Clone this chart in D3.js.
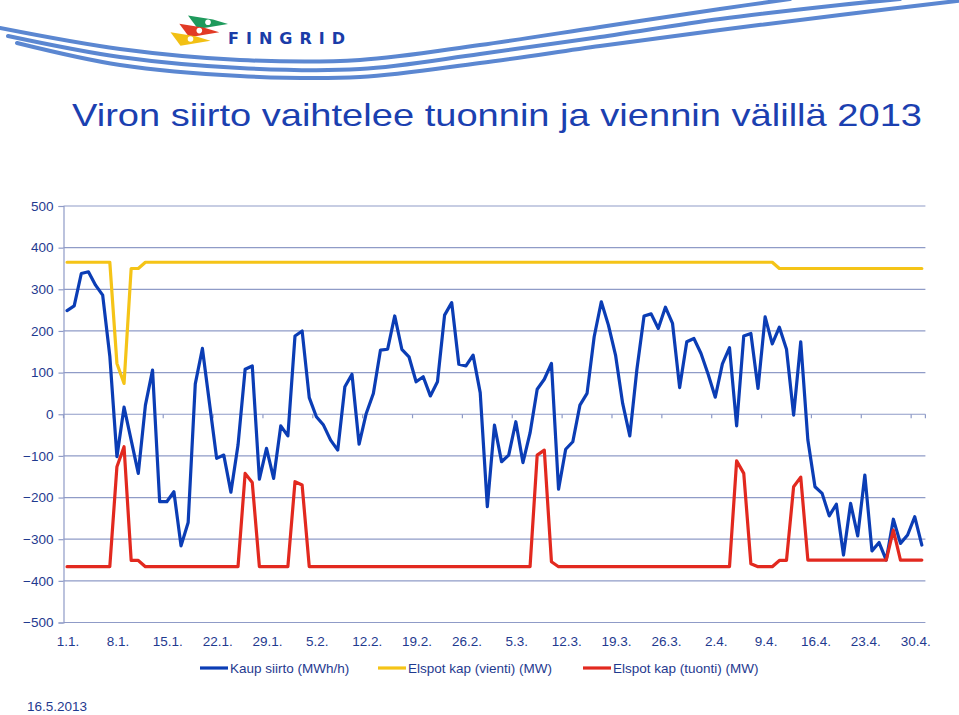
<!DOCTYPE html>
<html><head><meta charset="utf-8">
<script src="https://cdn.jsdelivr.net/npm/d3@7"></script>
<style>
body{margin:0;background:#fff}
svg{display:block}
text{font-family:"Liberation Sans",Arial,Helvetica,sans-serif}
text.logo{font-family:"DejaVu Sans","Liberation Sans",sans-serif;font-weight:bold}
</style>
</head><body>
<svg id="c" width="959" height="715"></svg>
<script>
// ---- data ----
const titleText = "Viron siirto vaihtelee tuonnin ja viennin välillä 2013";
const dateText = "16.5.2013";
const seriesNames = ["Kaup siirto (MWh/h)", "Elspot kap (vienti) (MW)", "Elspot kap (tuonti) (MW)"];
const tickLabels = ["1.1.","8.1.","15.1.","22.1.","29.1.","5.2.","12.2.","19.2.","26.2.","5.3.","12.3.","19.3.","26.3.","2.4.","9.4.","16.4.","23.4.","30.4."];
const yTicks = [500,400,300,200,100,0,-100,-200,-300,-400,-500];
const kaupSiirto = [
 249,260,338,342,310,286,140,-102,17,-62,
 -142,22,106,-210,-210,-186,-316,-260,73,158,
 26,-106,-98,-187,-74,108,116,-156,-82,-154,
 -28,-52,188,200,40,-6,-26,-62,-86,66,
 96,-72,2,50,154,156,236,156,138,78,
 90,44,78,238,268,120,116,142,52,-222,
 -26,-114,-98,-18,-116,-45,60,84,122,-180,
 -84,-66,22,50,186,270,214,142,26,-52,
 108,236,241,206,257,218,64,174,182,146,
 96,41,121,160,-28,188,194,62,234,169,
 209,156,-2,174,-62,-174,-190,-244,-216,-338,
 -214,-292,-146,-328,-308,-350,-252,-310,-290,-246,
 -314];
const elspotVienti = [
 365,365,365,365,365,365,365,122,74,350,
 350,365,365,365,365,365,365,365,365,365,
 365,365,365,365,365,365,365,365,365,365,
 365,365,365,365,365,365,365,365,365,365,
 365,365,365,365,365,365,365,365,365,365,
 365,365,365,365,365,365,365,365,365,365,
 365,365,365,365,365,365,365,365,365,365,
 365,365,365,365,365,365,365,365,365,365,
 365,365,365,365,365,365,365,365,365,365,
 365,365,365,365,365,365,365,365,365,365,
 350,350,350,350,350,350,350,350,350,350,
 350,350,350,350,350,350,350,350,350,350,
 350];
const elspotTuonti = [
 -366,-366,-366,-366,-366,-366,-366,-126,-78,-351,
 -351,-366,-366,-366,-366,-366,-366,-366,-366,-366,
 -366,-366,-366,-366,-366,-142,-164,-366,-366,-366,
 -366,-366,-162,-170,-366,-366,-366,-366,-366,-366,
 -366,-366,-366,-366,-366,-366,-366,-366,-366,-366,
 -366,-366,-366,-366,-366,-366,-366,-366,-366,-366,
 -366,-366,-366,-366,-366,-366,-98,-86,-354,-366,
 -366,-366,-366,-366,-366,-366,-366,-366,-366,-366,
 -366,-366,-366,-366,-366,-366,-366,-366,-366,-366,
 -366,-366,-366,-366,-112,-142,-359,-366,-366,-366,
 -351,-351,-174,-151,-350,-350,-350,-350,-350,-350,
 -350,-350,-350,-350,-350,-350,-278,-350,-350,-350,
 -350];
const seriesColors = ["#0b3db5", "#f5c417", "#e2291f"];

// ---- drawing ----
const svg = d3.select("#c");
svg.append("rect").attr("width",959).attr("height",715).attr("fill","#fff");

// decorative swooshes
const swooshes = [
  [[0,28],[120,49],[240,60],[360,60],[480,45],[600,27],[720,9],[790,-1]],
  [[8,36],[120,57],[240,68],[360,69],[480,54],[600,37],[720,19],[840,5],[900,-1]],
  [[17,43],[120,65],[240,76],[360,77],[480,63],[600,46],[720,30],[840,15],[965,0]]
];
const sl = d3.line().curve(d3.curveCatmullRom);
swooshes.forEach(p => svg.append("path").attr("d", sl(p)).attr("fill","none")
  .attr("stroke","#5b87d1").attr("stroke-width",4).attr("stroke-linecap","round"));

// logo flags
const flags = [
  {dx:0, dy:0, c:"#1e9a5c"},
  {dx:-8.7, dy:8.3, c:"#e23a25"},
  {dx:-17.5, dy:16.7, c:"#f2c014"}
];
flags.forEach(f => {
  const pts = [[188,15.5],[213,19.5],[228,24],[198,29]].map(p=>[p[0]+f.dx,p[1]+f.dy]);
  svg.append("polygon").attr("points", pts.map(p=>p.join(",")).join(" ")).attr("fill", f.c);
  svg.append("circle").attr("cx",208+f.dx).attr("cy",22.3+f.dy).attr("r",2.8).attr("fill","#fff");
});
svg.append("text").attr("class","logo").attr("x",228).attr("y",43.5).attr("font-size",16)
  .attr("fill","#1a3ca8").attr("textLength",117).attr("lengthAdjust","spacing").text("FINGRID");

// title
svg.append("text").attr("x",72).attr("y",126).attr("font-size",31.5).attr("fill","#1b40b0")
  .attr("textLength",850).attr("lengthAdjust","spacingAndGlyphs").text(titleText);

// scales
const n = kaupSiirto.length;
const x = d3.scaleBand().domain(d3.range(n)).range([63.5, 925.4]).paddingInner(0).paddingOuter(0);
const bw = x.bandwidth();
const cx = i => x(i) + bw/2;
const y = d3.scaleLinear().domain([-500,500]).range([622.5,206]);

const gridColor = "#8f9bc7";
const labelColor = "#1f3a8f";

// gridlines
svg.append("g").selectAll("line").data(yTicks).join("line")
  .attr("x1",63.5).attr("x2",925.4).attr("y1",d=>y(d)).attr("y2",d=>y(d))
  .attr("stroke",gridColor).attr("stroke-width",1.2);

// y axis
const yAxis = d3.axisLeft(y).tickValues(yTicks).tickSize(5).tickPadding(5).tickFormat(d3.format("d"));
const gy = svg.append("g").attr("transform","translate(63.5,0)").call(yAxis);
gy.select(".domain").attr("stroke",gridColor).attr("stroke-width",1.2);
gy.selectAll(".tick line").attr("stroke",gridColor).attr("stroke-width",1.2);
gy.selectAll("text").attr("fill",labelColor).attr("font-size",13.5)
  .attr("font-family","Liberation Sans, Arial, sans-serif").attr("x",-10);

// x tick marks on zero line (between categories)
const tickIdx = tickLabels.map((d,k)=>k*7);
svg.append("g").selectAll("line").data(tickIdx).join("line")
  .attr("x1",i=>x(i)).attr("x2",i=>x(i)).attr("y1",y(0)).attr("y2",y(0)+4)
  .attr("stroke",gridColor).attr("stroke-width",1.2);
svg.append("line").attr("x1",925.4).attr("x2",925.4).attr("y1",y(0)).attr("y2",y(0)+4)
  .attr("stroke",gridColor).attr("stroke-width",1.2);

// x labels
svg.append("g").selectAll("text").data(tickLabels).join("text")
  .attr("x",(d,k)=>cx(k*7)+1).attr("y",645.5).attr("text-anchor","middle")
  .attr("font-size",13.5).attr("fill",labelColor).text(d=>d);

// lines
const lineGen = d3.line().x((d,i)=>cx(i)).y(d=>y(d));
[kaupSiirto, elspotVienti, elspotTuonti].forEach((s,k)=>{
  svg.append("path").datum(s).attr("d",lineGen).attr("fill","none")
    .attr("stroke",seriesColors[k]).attr("stroke-width",3.2)
    .attr("stroke-linejoin","round").attr("stroke-linecap","round");
});

// legend
const legendX = [200, 378, 583];
seriesNames.forEach((name,k)=>{
  svg.append("line").attr("x1",legendX[k]).attr("x2",legendX[k]+28).attr("y1",668).attr("y2",668)
    .attr("stroke",seriesColors[k]).attr("stroke-width",3.2);
  svg.append("text").attr("x",legendX[k]+30).attr("y",673).attr("font-size",13.5)
    .attr("fill",labelColor).text(name);
});

// date
svg.append("text").attr("x",27).attr("y",711).attr("font-size",13.5).attr("fill",labelColor).text(dateText);
</script>
</body></html>
